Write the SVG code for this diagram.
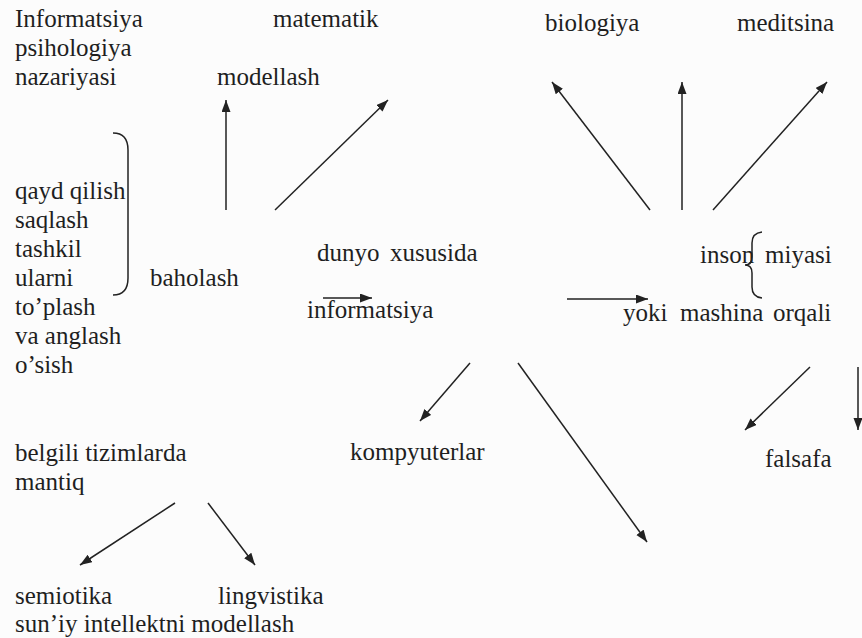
<svg xmlns="http://www.w3.org/2000/svg" width="862" height="638" viewBox="0 0 862 638">
<style>
  text { font-family: "Liberation Serif", "Times New Roman", serif; font-size: 25px; fill: #1f1f1f; }
  .ln { stroke: #222; stroke-width: 1.5; fill: none; }
  .arr { marker-end: url(#ah); }
</style>
<defs>
  <marker id="ah" markerUnits="userSpaceOnUse" markerWidth="13" markerHeight="10" refX="12" refY="4.5" orient="auto">
    <path d="M0,0 L12,4.5 L0,9 Z" fill="#222"/>
  </marker>
</defs>
<rect width="862" height="638" fill="#fcfcfc"/>

<g id="n-informatsiya-psihologiya">
  <text x="15" y="27">Informatsiya</text>
  <text x="15" y="56">psihologiya</text>
  <text x="15" y="85">nazariyasi</text>
</g>
<g id="n-matematik"><text x="273" y="27">matematik</text></g>
<g id="n-modellash"><text x="217" y="85">modellash</text></g>
<g id="n-biologiya"><text x="545" y="31">biologiya</text></g>
<g id="n-meditsina"><text x="737" y="31">meditsina</text></g>

<g id="n-jarayonlar">
  <text x="15" y="199">qayd qilish</text>
  <text x="15" y="228">saqlash</text>
  <text x="15" y="257">tashkil</text>
  <text x="15" y="286">ularni</text>
  <text x="15" y="315">to’plash</text>
  <text x="15" y="344">va anglash</text>
  <text x="15" y="373">o’sish</text>
  <path class="ln" d="M113,133 Q128,133 128,150 L128,278 Q128,295 113,295"/>
</g>
<g id="n-baholash"><text x="150" y="286">baholash</text></g>

<g id="n-dunyo"><text x="317" y="261">dunyo</text><text x="390" y="261">xususida</text></g>
<g id="n-informatsiya"><text x="307" y="318">informatsiya</text></g>

<g id="n-inson">
  <text x="700" y="263">inson</text>
  <text x="765" y="263">miyasi</text>
  <path class="ln" d="M762,232 Q752,233 752,243 L752,257 Q752,265 745,265 Q752,265 752,273 L752,287 Q752,297 762,298"/>
</g>
<g id="n-yoki">
  <text x="623" y="321">yoki</text><text x="680" y="321">mashina</text><text x="773" y="321">orqali</text>
</g>

<g id="n-kompyuterlar"><text x="350" y="460">kompyuterlar</text></g>
<g id="n-falsafa"><text x="765" y="467">falsafa</text></g>

<g id="n-belgili">
  <text x="15" y="461">belgili tizimlarda</text>
  <text x="15" y="490">mantiq</text>
</g>
<g id="n-semiotika"><text x="15" y="604">semiotika</text></g>
<g id="n-lingvistika"><text x="218" y="604">lingvistika</text></g>
<g id="n-suniy"><text x="15" y="632">sun’iy intellektni modellash</text></g>

<g id="connectors">
  <line class="ln arr" x1="226" y1="210" x2="226" y2="100"/>
  <line class="ln arr" x1="275" y1="210" x2="388" y2="100"/>
  <line class="ln arr" x1="650" y1="210" x2="552" y2="82"/>
  <line class="ln arr" x1="682" y1="210" x2="682" y2="82"/>
  <line class="ln arr" x1="713" y1="210" x2="827" y2="82"/>
  <line class="ln arr" x1="323" y1="298" x2="372" y2="298"/>
  <line class="ln arr" x1="567" y1="299" x2="648" y2="299"/>
  <line class="ln arr" x1="470" y1="363" x2="420" y2="421"/>
  <line class="ln arr" x1="518" y1="363" x2="647" y2="542"/>
  <line class="ln arr" x1="810" y1="367" x2="745" y2="430"/>
  <line class="ln arr" x1="858" y1="367" x2="858" y2="430"/>
  <line class="ln arr" x1="175" y1="503" x2="80" y2="565"/>
  <line class="ln arr" x1="208" y1="503" x2="255" y2="565"/>
</g>
</svg>
